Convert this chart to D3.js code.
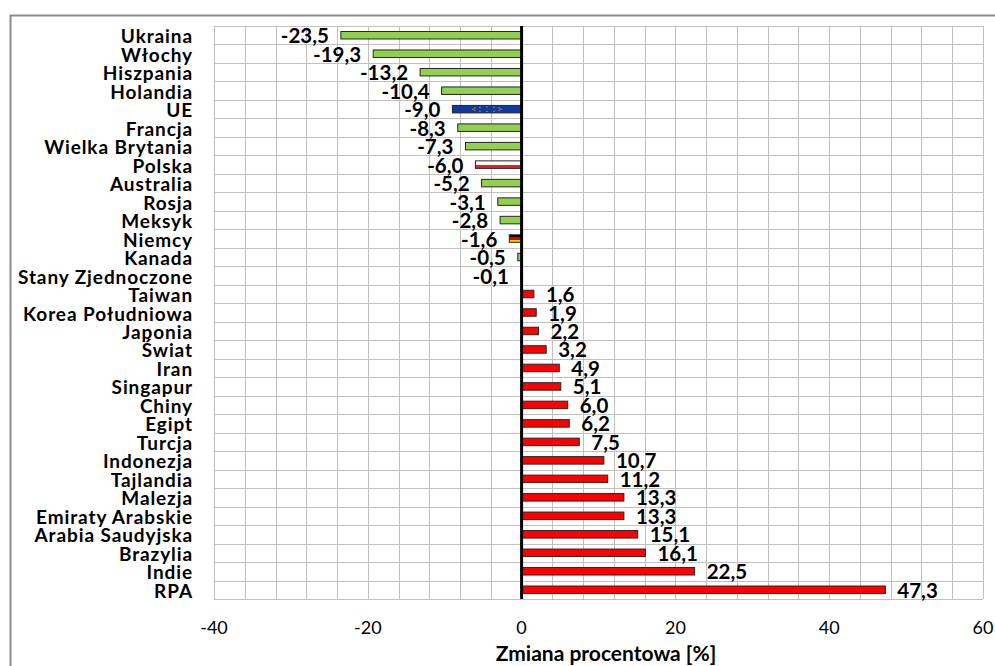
<!DOCTYPE html>
<html><head><meta charset="utf-8">
<script src="https://cdn.jsdelivr.net/npm/d3@7"></script>
<style>body{margin:0;background:#fff;} svg{display:block;}</style>
</head><body>
<svg id="c" width="995" height="666"></svg>
<script>
const categories = ["Ukraina","Włochy","Hiszpania","Holandia","UE","Francja","Wielka Brytania","Polska","Australia","Rosja","Meksyk","Niemcy","Kanada","Stany Zjednoczone","Taiwan","Korea Południowa","Japonia","Świat","Iran","Singapur","Chiny","Egipt","Turcja","Indonezja","Tajlandia","Malezja","Emiraty Arabskie","Arabia Saudyjska","Brazylia","Indie","RPA"];
const values = [-23.5,-19.3,-13.2,-10.4,-9.0,-8.3,-7.3,-6.0,-5.2,-3.1,-2.8,-1.6,-0.5,-0.1,1.6,1.9,2.2,3.2,4.9,5.1,6.0,6.2,7.5,10.7,11.2,13.3,13.3,15.1,16.1,22.5,47.3];
const tickValues = [-40,-20,0,20,40,60];
const axisTitle = "Zmiana procentowa [%]";

const svg = d3.select("#c");
const FONT = "Lato, 'Open Sans', sans-serif";
const L = 214, R = 983, T = 26, B = 599;
const x = d3.scaleLinear().domain([-40,60]).range([L,R]);
const y = d3.scaleBand().domain(categories).range([T,B]).paddingInner(0).paddingOuter(0);

// outer chart border
svg.append("path").attr("d",`M10.5,${666} V15.5 H995`).attr("fill","none").attr("stroke","#8c8c8c").attr("stroke-width",2);

// gridlines
const g = svg.append("g");
g.selectAll("line.v").data(d3.range(-40,61,4)).join("line")
  .attr("x1",d=>Math.round(x(d))+0.5).attr("x2",d=>Math.round(x(d))+0.5).attr("y1",T).attr("y2",B)
  .attr("stroke","#c0c0c0").attr("stroke-width",1);
g.selectAll("line.h").data(d3.range(categories.length+1)).join("line")
  .attr("x1",L).attr("x2",R)
  .attr("y1",i=>Math.round(T+i*y.step())+0.5).attr("y2",i=>Math.round(T+i*y.step())+0.5)
  .attr("stroke","#c0c0c0").attr("stroke-width",1);

// defs for flags
const defs = svg.append("defs");
const pl = defs.append("linearGradient").attr("id","pl").attr("x1",0).attr("x2",0).attr("y1",0).attr("y2",1);
pl.append("stop").attr("offset","50%").attr("stop-color","#ffffff");
pl.append("stop").attr("offset","50%").attr("stop-color","#ee1c25");
const de = defs.append("linearGradient").attr("id","de").attr("x1",0).attr("x2",0).attr("y1",0).attr("y2",1);
[["0%","#000"],["33.3%","#000"],["33.3%","#dd0000"],["66.6%","#dd0000"],["66.6%","#ffce00"],["100%","#ffce00"]]
  .forEach(s=>de.append("stop").attr("offset",s[0]).attr("stop-color",s[1]));

function fillFor(c,v){
  if(c==="UE") return "#123a9c";
  if(c==="Polska") return "url(#pl)";
  if(c==="Niemcy") return "url(#de)";
  return v<0 ? "#92d050" : "#ff0000";
}
const bh = 7.5;
const bars = svg.append("g");
bars.selectAll("rect").data(categories).join("rect")
  .attr("x",(c,i)=>x(Math.min(0,values[i])))
  .attr("y",c=>y(c)+y.bandwidth()/2-bh/2)
  .attr("width",(c,i)=>Math.abs(x(values[i])-x(0)))
  .attr("height",bh)
  .attr("fill",(c,i)=>fillFor(c,values[i]))
  .attr("stroke","#262626").attr("stroke-width",1);

// EU stars
const ueIdx = categories.indexOf("UE");
const ueX0 = x(values[ueIdx]), ueX1 = x(0), ueCy = y("UE")+y.bandwidth()/2;
const cxE = (ueX0+ueX1)/2;
d3.range(12).forEach(k=>{
  const a = k/12*2*Math.PI;
  svg.append("circle").attr("cx",cxE+Math.cos(a)*14).attr("cy",ueCy+Math.sin(a)*2.3).attr("r",0.7).attr("fill","#b8a850");
});

// zero line
svg.append("line").attr("x1",x(0)).attr("x2",x(0)).attr("y1",T).attr("y2",B).attr("stroke","#000").attr("stroke-width",3);

// value labels
const fmt = v=>v.toFixed(1).replace(".",",");
svg.append("g").selectAll("text").data(categories).join("text")
  .attr("x",(c,i)=> values[i]<0 ? x(values[i])-12 : x(values[i])+12)
  .attr("y",c=>y(c)+y.bandwidth()/2+8)
  .attr("text-anchor",(c,i)=>values[i]<0?"end":"start")
  .attr("font-family",FONT).attr("font-weight","bold").attr("font-size",20.5)
  .attr("fill","#000")
  .text((c,i)=>fmt(values[i]));

// category labels
svg.append("g").selectAll("text").data(categories).join("text")
  .attr("x",193).attr("y",c=>y(c)+y.bandwidth()/2+8)
  .attr("text-anchor","end")
  .attr("font-family",FONT).attr("font-weight","bold").attr("font-size",19)
  .attr("letter-spacing",0.9)
  .attr("fill","#000").text(c=>c);

// x tick labels
svg.append("g").selectAll("text").data(tickValues).join("text")
  .attr("x",d=>x(d)).attr("y",634).attr("text-anchor","middle")
  .attr("font-family",FONT).attr("font-size",18).attr("fill","#000")
  .text(d=>d);

svg.append("text").attr("x",606).attr("y",661).attr("text-anchor","middle")
  .attr("font-family",FONT).attr("font-weight","bold").attr("font-size",21)
  .text(axisTitle);
</script>
</body></html>
